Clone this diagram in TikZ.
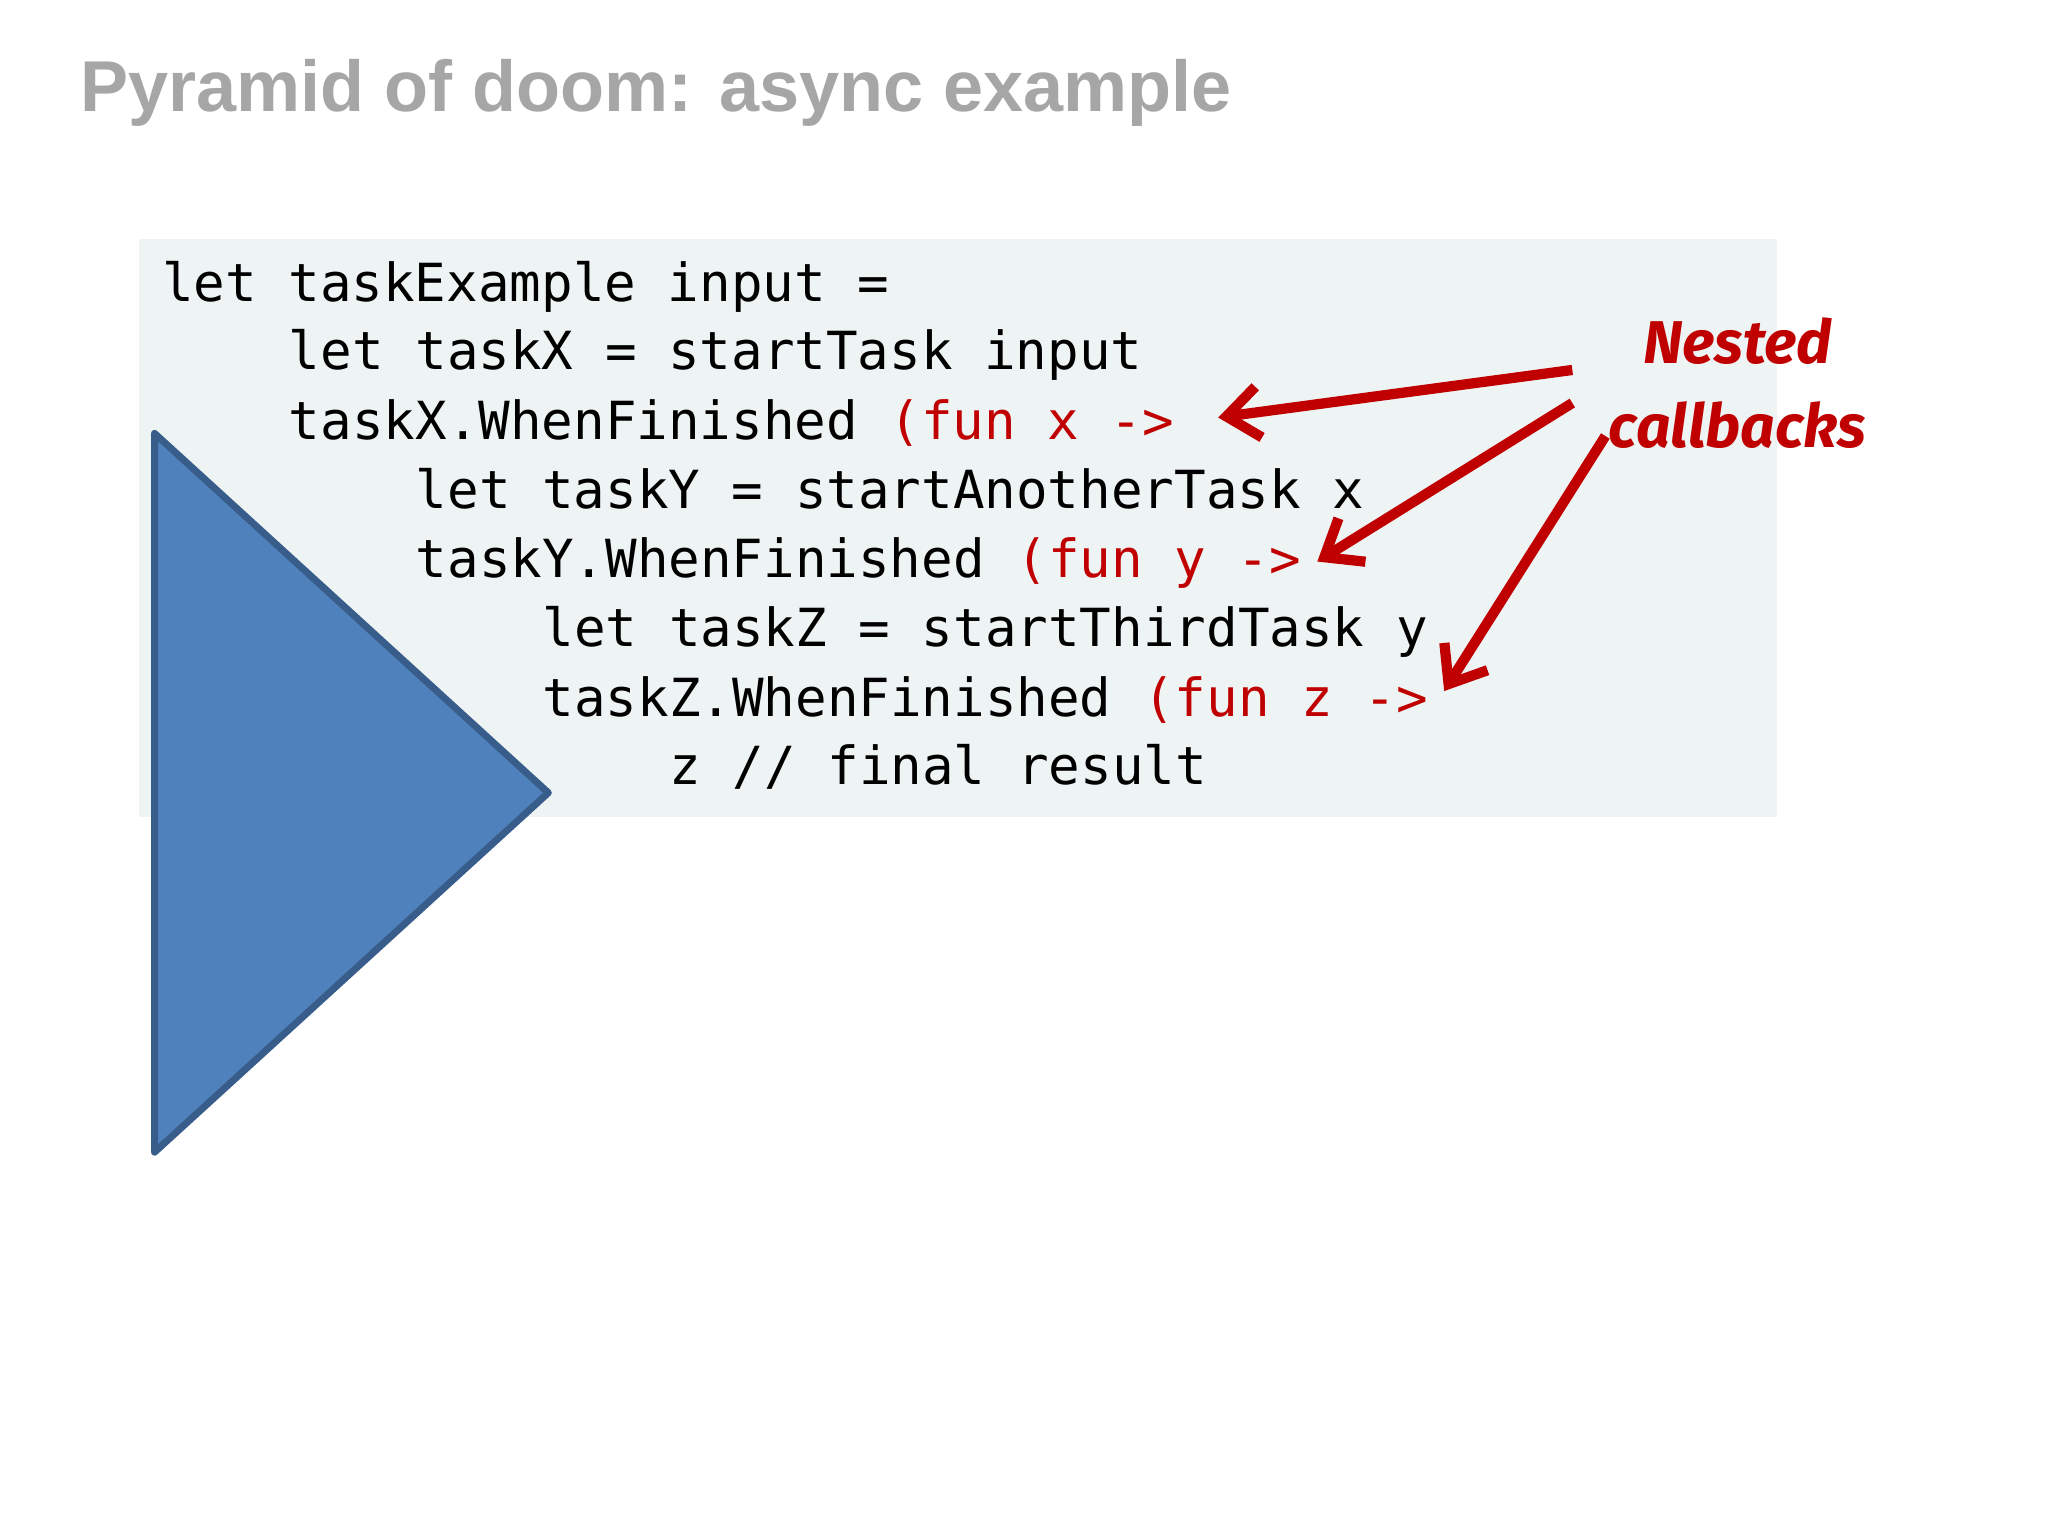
\documentclass[tikz,border=0pt]{standalone}
\usetikzlibrary{arrows.meta}
\usepackage{fontspec}
\setmainfont{Liberation Sans}
\newfontfamily\codefont{DejaVu Sans Mono}
\newfontfamily\handfont{Fira Sans}
\definecolor{kw}{HTML}{C00000}
\definecolor{bg}{HTML}{EEF3F3}
\definecolor{tri}{HTML}{4F81BD}
\definecolor{trib}{HTML}{385D8A}
\definecolor{ttl}{HTML}{A6A6A6}
\begin{document}
\begin{tikzpicture}[x=0.01cm,y=-0.01cm,
  code/.style={anchor=base west,inner sep=0pt,font=\codefont\fontsize{11.3}{13}\selectfont},
  redarrow/.style={draw=kw,line width=2.2pt,-{Straight Barb[length=7pt,width=11pt]}}]
\useasboundingbox (0,0) rectangle (1550,1163);
\fill[white] (0,0) rectangle (1550,1163);
\node[anchor=base west,inner sep=0pt,text=ttl,font=\bfseries\fontsize{15.5}{18}\selectfont] (title) at (60,84) {Pyramid of doom: async example};
\fill[bg] (105,181) rectangle (1345,618);
\node[code] (l1) at (122,228) {let taskExample input =};
\node[code] (l2) at (218,280) {let taskX = startTask input};
\node[code] (l3) at (218,333) {taskX.WhenFinished \textcolor{kw}{(fun x ->}};
\node[code] (l4) at (314,385) {let taskY = startAnotherTask x};
\node[code] (l5) at (314,437) {taskY.WhenFinished \textcolor{kw}{(fun y ->}};
\node[code] (l6) at (410,489) {let taskZ = startThirdTask y};
\node[code] (l7) at (410,542) {taskZ.WhenFinished \textcolor{kw}{(fun z ->}};
\node[code] (l8) at (506,594) {z  // final result};
\draw[fill=tri,draw=trib,line width=1.5pt,line join=round] (117,328) -- (415,600) -- (117,872) -- cycle;
\node[align=center,text=kw,font=\handfont\itshape\bfseries\fontsize{13}{18}\selectfont] (lab) at (1315,290) {Nested\\callbacks};
\coordinate (s1) at (1190,280); \coordinate (e1) at (922,316);
\coordinate (s2) at (1190,305); \coordinate (e2) at (997,425);
\coordinate (s3) at (1215,330); \coordinate (e3) at (1093,523);
\draw[redarrow] (s1) -- (e1);
\draw[redarrow] (s2) -- (e2);
\draw[redarrow] (s3) -- (e3);
\end{tikzpicture}
\end{document}
